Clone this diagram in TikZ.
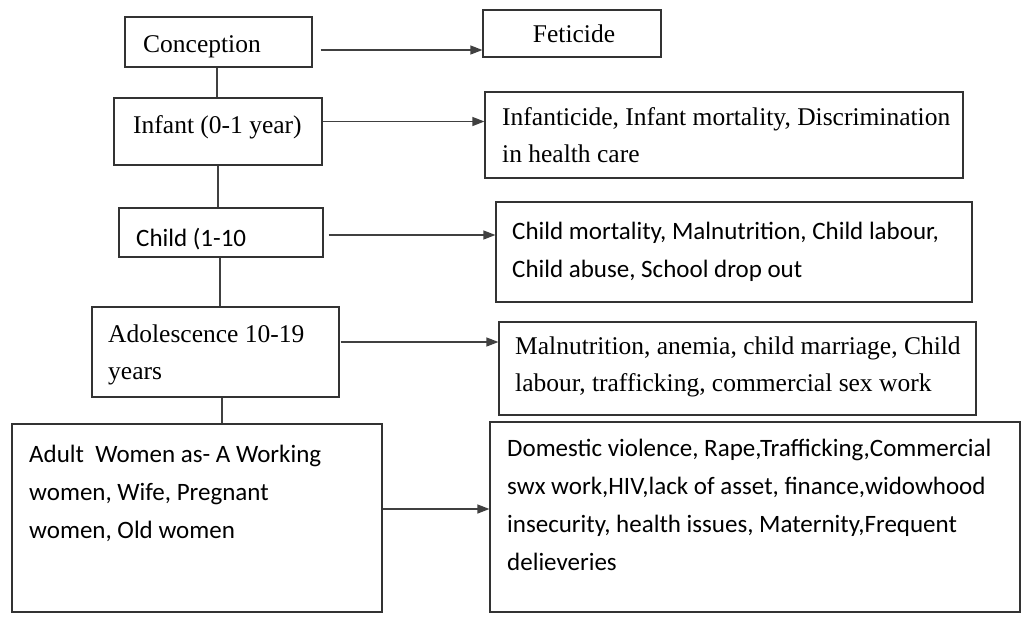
\documentclass[tikz,border=0pt]{standalone}
\usepackage{fontspec}
\setmainfont{Liberation Serif}
\newfontfamily\sansf{Carlito}
\usetikzlibrary{arrows.meta,calc}
\begin{document}
\begin{tikzpicture}[x=1pt,y=-1pt,
  box/.style={draw=black!80, line width=1.2pt, rectangle, inner sep=0pt},
  link/.style={draw=black!75, line width=1.2pt},
  arr/.style={link, -{Triangle[length=12pt,width=9pt]}},
  sertxt/.style={font=\fontsize{25.5}{37}\selectfont, inner sep=0pt, align=left, anchor=north west},
  santxt/.style={font=\sansf\fontsize{25}{38}\selectfont, inner sep=0pt, align=left, anchor=north west}]
\useasboundingbox[fill=white] (0,0) rectangle (1027,619);

% left column boxes
\node[box, minimum width=187pt, minimum height=50pt] (conc) at (218.5,42) {};
\node[box, minimum width=208pt, minimum height=67pt] (inf) at (218,131.5) {};
\node[box, minimum width=204pt, minimum height=49pt] (child) at (221,232.5) {};
\node[box, minimum width=247pt, minimum height=90pt] (adol) at (215.5,352) {};
\node[box, minimum width=370pt, minimum height=188pt] (adult) at (197,518) {};

% right column boxes
\node[box, minimum width=178pt, minimum height=47pt] (fet) at (572,33.5) {};
\node[box, minimum width=478pt, minimum height=86pt] (infr) at (724,135) {};
\node[box, minimum width=476pt, minimum height=100pt] (childr) at (734,252) {};
\node[box, minimum width=477pt, minimum height=93pt] (adolr) at (737.5,368.5) {};
\node[box, minimum width=530pt, minimum height=190pt] (adultr) at (755,517) {};

% texts
\node[sertxt] (tconc) at (143,35) {Conception};
\node[sertxt] (tinf) at (133,115) {Infant (0-1 year)};
\node[santxt] (tchild) at (136,228) {Child (1-10};
\node[sertxt] (tadol) at (108,325) {Adolescence 10-19\\years};
\node[santxt] (tadult) at (29,445) {Adult\ \ Women as- A Working\\women, Wife, Pregnant\\women, Old women};

\node[sertxt, anchor=north] (tfet) at (574,25) {Feticide};
\node[sertxt] (tinfr) at (502,107) {Infanticide, Infant mortality, Discrimination\\in health care};
\node[santxt] (tchildr) at (512,222) {Child mortality, Malnutrition, Child labour,\\Child abuse, School drop out};
\node[sertxt] (tadolr) at (515,337) {Malnutrition, anemia, child marriage, Child\\labour, trafficking, commercial sex work};
\node[santxt] (tadultr) at (507,439) {Domestic violence, Rape,Trafficking,Commercial\\swx work,HIV,lack of asset, finance,widowhood\\insecurity, health issues, Maternity,Frequent\\delieveries};

% vertical connectors
\draw[link] ([xshift=-1.5pt]conc.south) -- ([xshift=-1.5pt]conc.south |- inf.north);
\draw[link] (inf.south) -- (inf.south |- child.north);
\draw[link] ([xshift=-1pt]child.south) -- ([xshift=-1pt]child.south |- adol.north);
\draw[link] ([xshift=6.5pt]adol.south) -- ([xshift=6.5pt]adol.south |- adult.north);

% horizontal arrows
\coordinate (s1) at ([xshift=8pt,yshift=-8pt]conc.east);
\draw[arr] (s1) -- (s1 -| fet.west);
\coordinate (s2) at ([yshift=10pt]inf.east);
\draw[arr] (s2) -- (s2 -| infr.west);
\coordinate (s3) at ([xshift=5pt,yshift=-2.5pt]child.east);
\draw[arr] (s3) -- (s3 -| childr.west);
\coordinate (s4) at ([xshift=1pt,yshift=10pt]adol.east);
\draw[arr] (s4) -- (s4 -| adolr.west);
\coordinate (s5) at ([yshift=9pt]adult.east);
\draw[arr] (s5) -- (s5 -| adultr.west);
\end{tikzpicture}
\end{document}
